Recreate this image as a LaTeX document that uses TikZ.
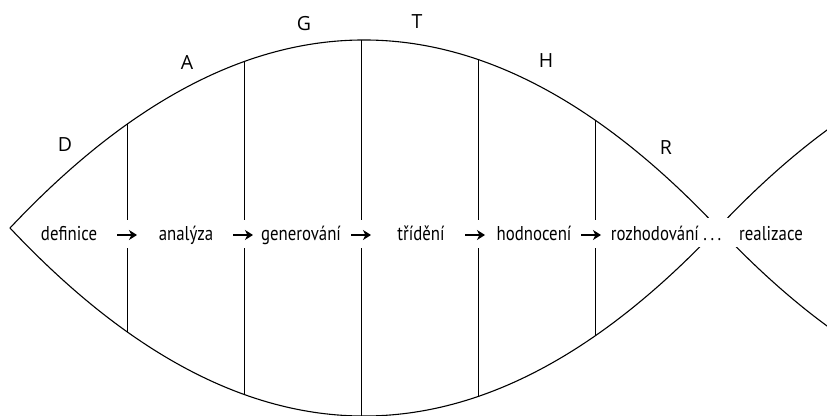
\documentclass[tikz,border=0pt]{standalone}
\usepackage{fontspec}
\setmainfont{PT Sans}[FakeStretch=0.84]
\newfontfamily\pismenofont{Open Sans}
\usetikzlibrary{arrows.meta}
\newcommand{\tecky}{.\kern3.5pt.\kern3.5pt.}
\tikzset{
  krok/.style={font=\fontsize{20}{22}\selectfont, inner sep=0pt, anchor=base},
  pismeno/.style={font=\pismenofont\fontsize{19.5}{22}\selectfont, inner sep=0pt},
  sipka/.style={-{Stealth[length=8pt,width=10pt,inset=2.5pt]}, line width=1.1pt},
  obrys/.style={line width=1.1pt},
  pricka/.style={line width=1pt}
}
\begin{document}
\begin{tikzpicture}[x=1pt,y=-1pt]
        \clip (0,0) rectangle (827,415);
        \draw[obrys] (10,228) .. controls (246,-22.7) and (482,-22.7) .. (718,228)
                     .. controls (954,478.7) and (1190,478.7) .. (1426,228);
        \draw[obrys] (10,228) .. controls (246,478.7) and (482,478.7) .. (718,228)
                     .. controls (954,-22.7) and (1190,-22.7) .. (1426,228);
        \fill[white] (690,218) rectangle (745,247);
        \foreach \x/\i/\s in {127/1/0,244/2/-1,361/3/0,478/4/-3,595/5/-4} {
          \pgfmathsetmacro\t{(\x-10)/708}
          \pgfmathsetmacro\h{752*\t*(1-\t)}
          \draw[pricka] (\x,228-\h) -- (\x,220);
          \draw[pricka] (\x,248) -- (\x,228+\h);
          \coordinate (p\i) at (\x+\s,235);
          \draw[sipka] ([xshift=-10pt]p\i) -- ([xshift=10pt]p\i);
        }
        \node[krok] (definice) at (69,240) {definice};
        \node[krok] (analyza) at (186,240) {analýza};
        \node[krok] (generovani) at (301,240) {generování};
        \node[krok] (trideni) at (421,240) {třídění};
        \node[krok] (hodnoceni) at (534,240) {hodnocení};
        \node[krok] (rozhodovani) at (666,240) {rozhodování \tecky};
        \node[krok] (realizace) at (771,240) {realizace};
        \node[pismeno] (D) at (65,145) {D};
        \node[pismeno] (A) at (187,63) {A};
        \node[pismeno] (G) at (304,24) {G};
        \node[pismeno] (T) at (417,22) {T};
        \node[pismeno] (H) at (546,61) {H};
        \node[pismeno] (R) at (666,148) {R};
      \end{tikzpicture}
\end{document}
